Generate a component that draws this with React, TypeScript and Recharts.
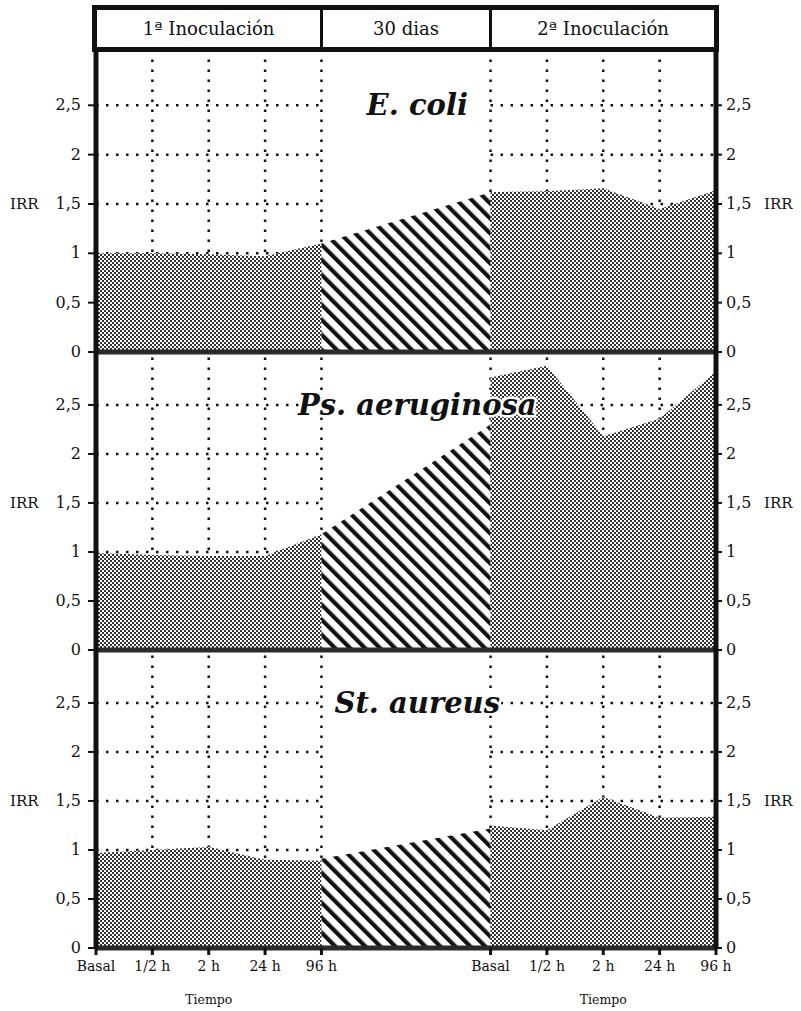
import React from 'react';
import { ComposedChart, Area, XAxis, YAxis, ReferenceLine, ReferenceDot } from 'recharts';

const SERIF = '"DejaVu Serif", serif';
const INK = '#111';

const timeLabels = ['Basal', '1/2 h', '2 h', '24 h', '96 h'];
const firstPos = [0, 1, 2, 3, 4];
const secondPos = [7, 8, 9, 10, 11];
const xTicks = [...firstPos, ...secondPos];
const yTicks = [0, 0.5, 1, 1.5, 2, 2.5];
const gridY = [0.5, 1, 1.5, 2, 2.5];
const gridX = [1, 2, 3, 4, 7, 8, 9, 10];
const headerLabels = ['1ª Inoculación', '30 dias', '2ª Inoculación'];
const axisTitle = 'Tiempo';
const yLabel = 'IRR';

const ecoliFirst = [1.0, 1.0, 0.99, 0.97, 1.1];
const ecoliGap = [1.1, 1.62];
const ecoliSecond = [1.62, 1.63, 1.66, 1.45, 1.64];

const psFirst = [0.99, 0.97, 0.96, 0.96, 1.18];
const psGap = [1.18, 2.3];
const psSecond = [2.78, 2.9, 2.18, 2.36, 2.84];

const stFirst = [0.97, 1.0, 1.03, 0.9, 0.89];
const stGap = [0.91, 1.22];
const stSecond = [1.25, 1.2, 1.54, 1.33, 1.34];

const buildRows = (first: number[], gap: number[], second: number[]) => {
  const rows: any[] = [];
  firstPos.forEach((x, i) =>
    rows.push({ x, first: first[i], gap: i === firstPos.length - 1 ? gap[0] : null, second: null })
  );
  secondPos.forEach((x, i) =>
    rows.push({ x, first: null, gap: i === 0 ? gap[1] : null, second: second[i] })
  );
  return rows;
};

const fmt = (v: number) => String(v).replace('.', ',');

const YTick = (props: any) => {
  const { x, y, payload, side } = props;
  const v = payload.value;
  const left = side === 'l';
  return (
    <g>
      <text x={x} y={y} dy={5} textAnchor={left ? 'end' : 'start'} fontSize={16} fontFamily={SERIF} fill={INK}>
        {fmt(v)}
      </text>
      {v === 1.5 && (
        <text x={left ? 10 : 764} y={y} dy={5} textAnchor="start" fontSize={15} fontFamily={SERIF} fill={INK}>
          {yLabel}
        </text>
      )}
    </g>
  );
};

const XTick = (props: any) => {
  const { x, y, payload } = props;
  const v = payload.value;
  const i1 = firstPos.indexOf(v);
  const label = i1 >= 0 ? timeLabels[i1] : timeLabels[secondPos.indexOf(v)];
  return (
    <g>
      <text x={x} y={y} dy={14} textAnchor="middle" fontSize={14} fontFamily={SERIF} fill={INK}>
        {label}
      </text>
      {(v === 2 || v === 9) && (
        <text x={x} y={y} dy={47} textAnchor="middle" fontSize={12.5} fontFamily={SERIF} fill={INK}>
          {axisTitle}
        </text>
      )}
    </g>
  );
};

type PanelProps = {
  title: string;
  first: number[];
  gap: number[];
  second: number[];
  top: number;
  plotH: number;
  showX?: boolean;
};

const Panel = ({ title, first, gap, second, top, plotH, showX }: PanelProps) => {
  const data = buildRows(first, gap, second);
  const bottom = showX ? 62 : 16;
  const dotted = { stroke: INK, strokeWidth: 2.5, strokeDasharray: '2.5 7.5' };
  return (
    <div style={{ position: 'absolute', left: 0, top }}>
      <ComposedChart width={801} height={6 + plotH + bottom} data={data} margin={{ top: 6, right: 0, bottom: showX ? 0 : 16, left: 0 }}>
        <XAxis
          type="number"
          dataKey="x"
          domain={[0, 11]}
          ticks={xTicks}
          interval={0}
          hide={!showX}
          height={62}
          axisLine={false}
          tickLine={{ stroke: INK, strokeWidth: 3 }}
          tickSize={7}
          tickMargin={2}
          tick={<XTick />}
        />
        <YAxis
          yAxisId="l"
          width={96}
          domain={[0, 3.04]}
          allowDataOverflow
          ticks={yTicks}
          interval={0}
          axisLine={{ stroke: INK, strokeWidth: 5 }}
          tickLine={{ stroke: INK, strokeWidth: 2 }}
          tickSize={8}
          tickMargin={7}
          tick={<YTick side="l" />}
        />
        <YAxis
          yAxisId="r"
          orientation="right"
          width={85}
          domain={[0, 3.04]}
          allowDataOverflow
          ticks={yTicks}
          interval={0}
          axisLine={{ stroke: INK, strokeWidth: 5 }}
          tickLine={{ stroke: INK, strokeWidth: 2 }}
          tickSize={6}
          tickMargin={4}
          tick={<YTick side="r" />}
        />
        {gridX.map((x) => (
          <ReferenceLine key={'vx' + x} yAxisId="l" x={x} {...dotted} zIndex={-50} />
        ))}
        {gridY.map((y) =>
          [[0, 4], [7, 11]].map(([a, b]) => (
            <ReferenceLine
              key={'hy' + y + a}
              yAxisId="l"
              segment={[{ x: a, y }, { x: b, y }]}
              {...dotted}
              zIndex={-50}
            />
          ))
        )}
        <Area yAxisId="l" type="linear" dataKey="first" fill="url(#dotFill)" fillOpacity={1} stroke="none" dot={false} activeDot={false} isAnimationActive={false} />
        <Area yAxisId="l" type="linear" dataKey="gap" fill="url(#hatchFill)" fillOpacity={1} stroke="none" dot={false} activeDot={false} isAnimationActive={false} />
        <Area yAxisId="l" type="linear" dataKey="second" fill="url(#dotFill)" fillOpacity={1} stroke="none" dot={false} activeDot={false} isAnimationActive={false} />
        <ReferenceLine yAxisId="l" y={0} stroke="#2a2a2a" strokeWidth={5} zIndex={450} />
        <ReferenceDot
          yAxisId="l"
          x={5.7}
          y={2.5}
          r={0}
          shape={(p: any) => (
            <text
              x={p.cx}
              y={p.cy}
              dy={10}
              textAnchor="middle"
              fontSize={29}
              fontWeight="bold"
              fontStyle="italic"
              fontFamily={SERIF}
              fill={INK}
              stroke="#fff"
              strokeWidth={5}
              paintOrder="stroke"
            >
              {title}
            </text>
          )}
        />
      </ComposedChart>
    </div>
  );
};

export default function App() {
  const cellStyle: React.CSSProperties = {
    position: 'absolute',
    top: 5,
    height: 47,
    lineHeight: '47px',
    textAlign: 'center',
    fontFamily: SERIF,
    fontSize: 18,
    color: INK,
  };
  return (
    <div style={{ position: 'absolute', left: 0, top: 0, width: 801, height: 1011, background: '#fff' }}>
      <svg width={0} height={0} style={{ position: 'absolute' }}>
        <defs>
          <pattern id="dotFill" width={4} height={4} patternUnits="userSpaceOnUse">
            <rect width={4} height={4} fill="#fff" />
            <rect x={0} y={0} width={2} height={2} fill="#333" />
            <rect x={2} y={2} width={2} height={2} fill="#333" />
          </pattern>
          <pattern id="hatchFill" width={10.6} height={10.6} patternUnits="userSpaceOnUse" patternTransform="rotate(-45)">
            <rect width={10.6} height={10.6} fill="#fff" />
            <rect x={0} y={0} width={4.2} height={10.6} fill={INK} />
          </pattern>
        </defs>
      </svg>

      <div style={{ position: 'absolute', left: 92, top: 5, width: 627, height: 47, border: `5px solid ${INK}`, boxSizing: 'border-box' }} />
      <div style={{ position: 'absolute', left: 320, top: 5, width: 3, height: 47, background: INK }} />
      <div style={{ position: 'absolute', left: 489, top: 5, width: 3, height: 47, background: INK }} />
      <div style={{ ...cellStyle, left: 97, width: 223 }}>{headerLabels[0]}</div>
      <div style={{ ...cellStyle, left: 323, width: 166 }}>{headerLabels[1]}</div>
      <div style={{ ...cellStyle, left: 492, width: 222 }}>{headerLabels[2]}</div>

      <Panel title="E. coli" first={ecoliFirst} gap={ecoliGap} second={ecoliSecond} top={46} plotH={300} />
      <Panel title="Ps. aeruginosa" first={psFirst} gap={psGap} second={psSecond} top={346} plotH={298} />
      <Panel title="St. aureus" first={stFirst} gap={stGap} second={stSecond} top={644} plotH={298} showX />
    </div>
  );
}
